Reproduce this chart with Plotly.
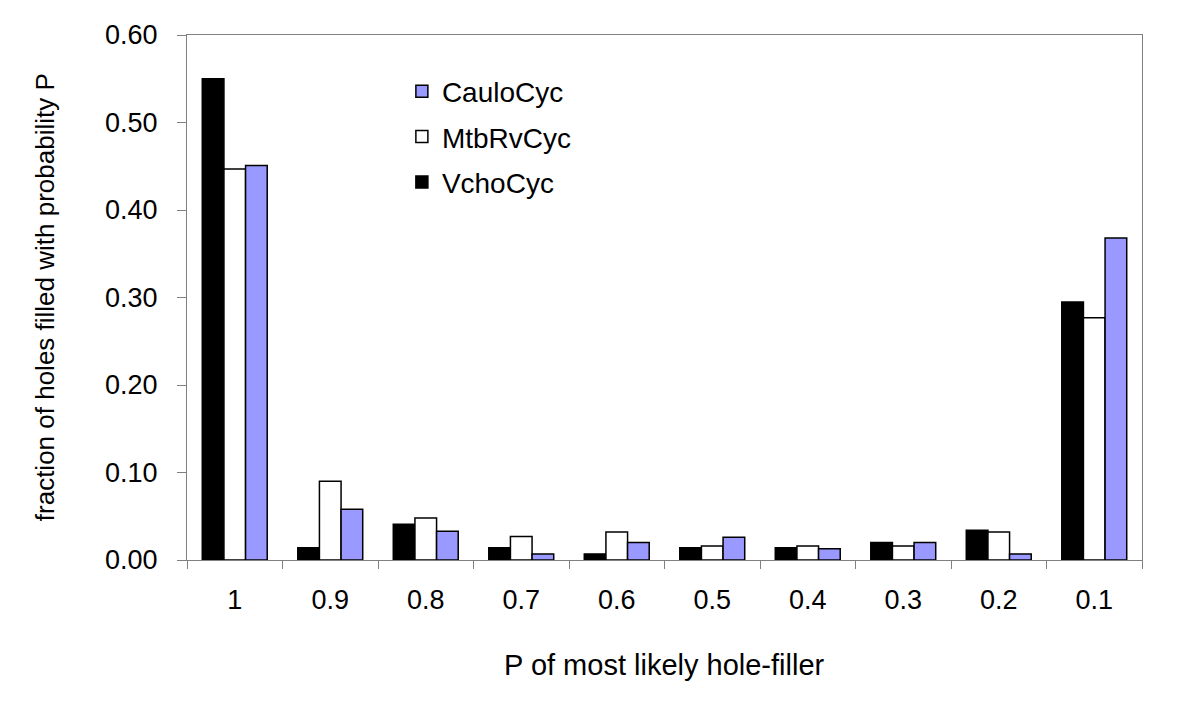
import plotly.graph_objects as go

categories = ["1", "0.9", "0.8", "0.7", "0.6", "0.5", "0.4", "0.3", "0.2", "0.1"]
vcho = [0.550, 0.014, 0.041, 0.014, 0.007, 0.014, 0.014, 0.020, 0.034, 0.295]
mtb = [0.447, 0.090, 0.048, 0.027, 0.032, 0.016, 0.016, 0.016, 0.032, 0.277]
caulo = [0.451, 0.058, 0.033, 0.007, 0.020, 0.026, 0.013, 0.020, 0.007, 0.368]
y_ticks = [0.0, 0.1, 0.2, 0.3, 0.4, 0.5, 0.6]

FONT = "Liberation Sans, Arial, sans-serif"
fig = go.Figure()
fig.add_trace(go.Bar(x=categories, y=vcho, name="VchoCyc", legendgroup="a", legendrank=3,
                     marker=dict(color="#000000", line=dict(color="#000000", width=1.5))))
fig.add_trace(go.Bar(x=categories, y=mtb, name="MtbRvCyc", legendgroup="b", legendrank=2,
                     marker=dict(color="#ffffff", line=dict(color="#000000", width=1.5))))
fig.add_trace(go.Bar(x=categories, y=caulo, name="CauloCyc", legendgroup="c", legendrank=1,
                     marker=dict(color="#9999ff", line=dict(color="#000000", width=1.5))))

fig.update_layout(
    width=1191, height=696,
    margin=dict(l=179, r=57, t=27, b=144),
    paper_bgcolor="white", plot_bgcolor="white",
    font=dict(family=FONT, size=26, color="black"),
    barmode="group", bargap=0.32, bargroupgap=0,
    showlegend=True,
    legend=dict(x=0.225, y=0.94, xanchor="left", yanchor="top",
                traceorder="grouped", tracegroupgap=6,
                font=dict(size=28), bgcolor="rgba(0,0,0,0)"),
    xaxis=dict(type="category", tickson="boundaries", ticks="outside", ticklen=8,
               tickcolor="#808080", linecolor="#808080", linewidth=1, mirror=True,
               showgrid=False, tickfont=dict(size=27), ticklabelstandoff=16),
    yaxis=dict(range=[0, 0.6], tickvals=y_ticks, tickformat=".2f", ticks="outside",
               ticklen=9, tickcolor="#808080", linecolor="#808080", linewidth=1,
               mirror=True, showgrid=False, zeroline=False, tickfont=dict(size=27),
               ticklabelstandoff=14),
    annotations=[
        dict(text="P of most likely hole-filler", xref="paper", yref="paper",
             x=0.5, y=-0.2, xanchor="center", yanchor="middle",
             showarrow=False, font=dict(size=29)),
        dict(text="fraction of holes filled with probability P", xref="paper", yref="paper",
             x=-0.149, y=0.5, textangle=-90, xanchor="center", yanchor="middle",
             showarrow=False, font=dict(size=26)),
    ],
)
fig.write_html("out.html")
